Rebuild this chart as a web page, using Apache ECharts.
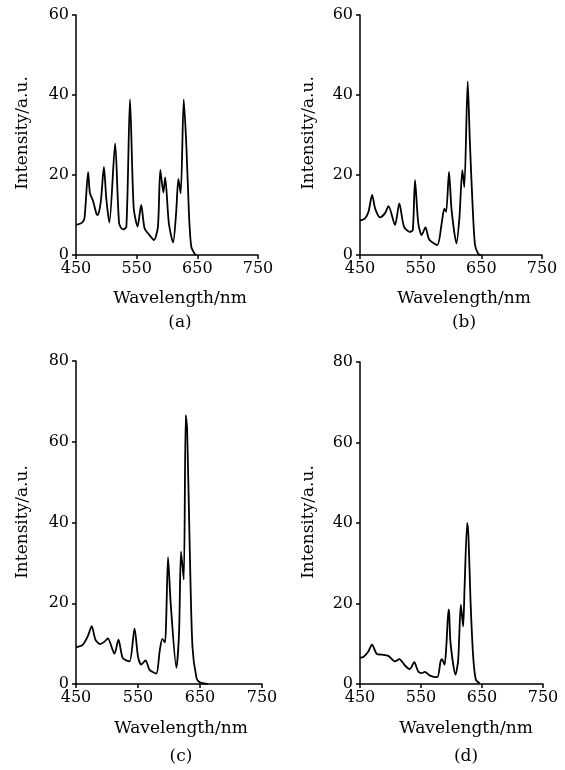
<!DOCTYPE html>
<html><head><meta charset="utf-8">
<script src="https://cdn.jsdelivr.net/npm/echarts@6/dist/echarts.min.js"></script>
<style>html,body{margin:0;padding:0;background:#fff}#c{width:565px;height:770px}</style>
</head><body><div id="c"></div>
<script>
// Panel (a)
var wlA = [450,460,464,470,473,477.6,484,486,491,496,500,505,514.5,521,527,533,539,545,551.5,557.5,563,571,578.5,585,589,594,597,603,610,615,618.8,622.6,627.6,632,636.4,640,645.8,648.6];
var inA = [7.5,8.1,9.2,20.7,15.4,13.75,10.2,10,13.5,22,14,8.1,27.9,8,6.4,7,38.9,12,7.1,12.5,6.7,5,3.75,7,21.25,15.6,19.4,8,3.1,10.4,19,15.4,38.9,27,9.6,2.1,0.25,0];
// Panel (b)
var wlB = [450,458,464,470,475,483,491,497,507.7,514.8,522.5,532,537,540.7,546,551.6,558,564,577.5,584.6,589,592,596.7,601,609,614,618.7,622,627.5,631,635.7,639.6,645,649];
var inB = [8.6,9.1,10.8,15,11.6,9.4,10.4,12.2,7.5,12.9,7.1,5.8,6.2,18.7,8,5,6.9,3.9,2.5,7.9,11.6,10.8,20.8,11.2,2.9,9.6,21.2,17,43.4,28.7,12,2.5,0.25,0];
// Panel (c)
var wlC = [450,460.8,468.9,475.4,481.3,488.9,496,501.3,512,518.5,525.5,536.3,544.4,550,555.2,562.2,568.7,579.5,584.9,589.2,593.5,595.6,598.4,602.7,611.9,616.2,619.4,623.8,627,629.2,633.5,637.8,644.3,649.7,663];
var inC = [9.1,9.7,11.8,14.3,11,9.9,10.5,11.3,7.5,11,6.4,5.6,13.8,6.8,4.8,5.85,3.5,2.55,8.1,11.2,10.3,16.7,31.4,20,4,12.6,32.8,25.9,66.6,63.3,33.2,9.3,1.5,0.4,0];
// Panel (d)
var wlD = [450,455.5,463.6,469.6,477.3,485.5,496.4,507.3,514.4,523.6,531.8,538.9,545.5,551,556.4,564.6,576.6,582,584.2,588.6,591.8,595.1,596.2,598.4,606.6,611,615.3,619.1,621.3,625.7,627.8,631.1,635.5,639.9,646.4];
var inD = [6.5,6.7,8.1,9.8,7.5,7.3,7,5.6,6.2,4.6,3.7,5.4,3.1,2.7,3,2.1,1.7,5.6,6.2,4.8,10.2,18.5,17.6,10.2,2.3,6,19.7,14.3,23.4,40,36.7,21,6.9,1.1,0.1];

var xTicks = [450, 550, 650, 750];
var yMaxTop = 60, yMaxBottom = 80;
var panelLabels = ['(a)', '(b)', '(c)', '(d)'];
var xName = 'Wavelength/nm', yName = 'Intensity/a.u.';

var FONT = 'DejaVu Serif';
function pairs(w, v){ return w.map(function(x,i){ return [x, v[i]]; }); }

var grids = [
  {left:76, top:15, width:182, height:240},
  {left:360, top:15, width:182, height:240},
  {left:76, top:361, width:186, height:323},
  {left:360, top:362, width:183, height:322}
];
var yMax = [yMaxTop, yMaxTop, yMaxBottom, yMaxBottom];
var datas = [pairs(wlA,inA), pairs(wlB,inB), pairs(wlC,inC), pairs(wlD,inD)];

var axisLine = {show:true, lineStyle:{color:'#000', width:1.5}};
var axisTick = {show:true, inside:false, length:4, lineStyle:{color:'#000', width:1.5}};

var option = {
  animation:false,
  backgroundColor:'#fff',
  grid: grids.map(function(g){ return Object.assign({containLabel:false}, g); }),
  xAxis: grids.map(function(g,i){ return {
    gridIndex:i, type:'value', min:xTicks[0], max:xTicks[xTicks.length-1], interval:100,
    axisLine:axisLine, axisTick:axisTick, splitLine:{show:false},
    axisLabel:{color:'#000', fontFamily:FONT, fontSize:16, margin:6}
  };}),
  yAxis: grids.map(function(g,i){ return {
    gridIndex:i, type:'value', min:0, max:yMax[i], interval:20,
    axisLine:axisLine, axisTick:axisTick, splitLine:{show:false},
    axisLabel:{color:'#000', fontFamily:FONT, fontSize:16, margin:7}
  };}),
  series: datas.map(function(d,i){ return {
    type:'line', xAxisIndex:i, yAxisIndex:i, data:d, smooth:0.25, symbol:'none',
    lineStyle:{color:'#000', width:1.8}
  };}),
  graphic: []
};

var nameXs = [180, 464, 181, 466];
var nameYs = [299, 299, 729, 729];
var labYs = [323, 323, 757, 757];
var yNameX = [23, 309, 23, 309];
var yNameY = [133, 133, 522, 522];
for (var i=0;i<4;i++){
  option.graphic.push({type:'text', x:nameXs[i], y:nameYs[i],
    style:{text:xName, font:'17px "'+FONT+'"', fill:'#000', textAlign:'center', textVerticalAlign:'middle'}});
  option.graphic.push({type:'text', x:nameXs[i], y:labYs[i],
    style:{text:panelLabels[i], font:'17px "'+FONT+'"', fill:'#000', textAlign:'center', textVerticalAlign:'middle'}});
  option.graphic.push({type:'text', x:yNameX[i], y:yNameY[i], rotation:Math.PI/2,
    style:{text:yName, font:'17px "'+FONT+'"', fill:'#000', textAlign:'center', textVerticalAlign:'middle'}});
}

var chart = echarts.init(document.getElementById('c'), null, {renderer:'canvas'});
chart.setOption(option);
</script>
</body></html>
